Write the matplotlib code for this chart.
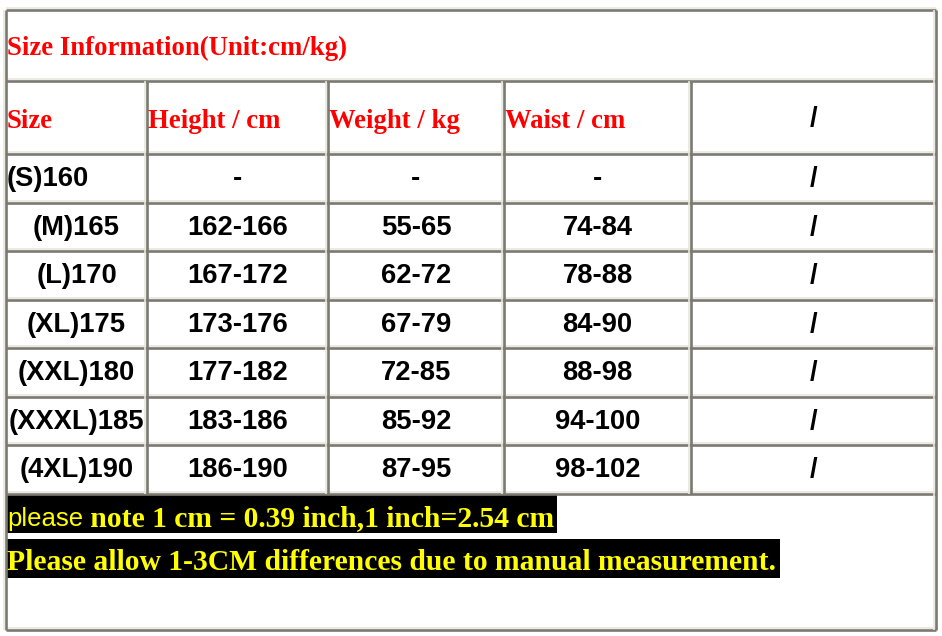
import matplotlib
matplotlib.use("Agg")
from matplotlib import pyplot as plt
from matplotlib.patches import Rectangle

# table content
title = "Size Information(Unit:cm/kg)"
headers = ["Size", "Height / cm", "Weight / kg", "Waist / cm", "/"]
sizes = ["(S)160", "(M)165", "(L)170", "(XL)175", "(XXL)180", "(XXXL)185", "(4XL)190"]
heights = ["-", "162-166", "167-172", "173-176", "177-182", "183-186", "186-190"]
weights = ["-", "55-65", "62-72", "67-79", "72-85", "85-92", "87-95"]
waists = ["-", "74-84", "78-88", "84-90", "88-98", "94-100", "98-102"]
extra = ["/"] * 7
note_1_first = "please"
note_1_rest = " note 1 cm = 0.39 inch,1 inch=2.54 cm"
note_2 = "Please allow 1-3CM differences due to manual measurement."

# layout in pixels
W, H = 942, 636
col_edges = [6, 147, 328, 504, 691, 936]
row_edges = [10, 81, 154, 202.5, 251, 299.5, 348, 396.5, 445, 493.5, 630]
dark = "#7a7a72"
light = "#e9e7dc"
red = "#ff0000"
yellow = "#ffff00"
serif = ["Liberation Serif", "DejaVu Serif"]
sans = ["Liberation Sans", "DejaVu Sans"]
fs_head = 19.3
fs_data = 19.7
fs_note = 21.3

fig = plt.figure(figsize=(W / 100, H / 100), dpi=100)
ax = fig.add_axes([0, 0, 1, 1])
ax.set_xlim(0, W)
ax.set_ylim(H, 0)
ax.axis("off")


def hline(y, x0, x1):
    ax.plot([x0, x1], [y - 2, y - 2], color=light, lw=1.2, solid_capstyle="butt")
    ax.plot([x0, x1], [y, y], color=dark, lw=1.9, solid_capstyle="butt")


def vline(x, y0, y1):
    ax.plot([x - 2, x - 2], [y0, y1], color=light, lw=1.2, solid_capstyle="butt")
    ax.plot([x, x], [y0, y1], color=dark, lw=1.9, solid_capstyle="butt")


left, right = col_edges[0], col_edges[-1]
for y in row_edges:
    hline(y, left, right)
vline(left, row_edges[0], row_edges[-1])
vline(right, row_edges[0], row_edges[-1])
for x in col_edges[1:-1]:
    vline(x, row_edges[1], row_edges[-2])

# title row
ax.text(left + 1, 55, title, color=red, family=serif, weight="bold",
        fontsize=fs_head, va="baseline", ha="left")

# header row
for i, h in enumerate(headers):
    if h == "/":
        ax.text((col_edges[i] + col_edges[i + 1]) / 2, 126, h, family=sans,
                weight="bold", fontsize=fs_data, va="baseline", ha="center",
                color="black")
    else:
        ax.text(col_edges[i] + 1, 128, h, color=red, family=serif, weight="bold",
                fontsize=fs_head, va="baseline", ha="left")

# data rows
columns = [sizes, heights, weights, waists, extra]
for r in range(len(sizes)):
    yc = (row_edges[r + 2] + row_edges[r + 3]) / 2 + 1
    for c, col in enumerate(columns):
        val = col[r]
        if c == 0 and r == 0:
            ax.text(col_edges[0] + 1, yc, val, family=sans, weight="bold",
                    fontsize=fs_data, va="center", ha="left", color="black")
        else:
            ax.text((col_edges[c] + col_edges[c + 1]) / 2, yc, val, family=sans,
                    weight="bold", fontsize=fs_data, va="center", ha="center",
                    color="black")

# notes on black bands
ax.add_patch(Rectangle((left + 1, 495), 557 - left - 1, 38, color="black", lw=0))
ax.add_patch(Rectangle((left + 1, 539), 780 - left - 1, 39, color="black", lw=0))
t1 = ax.text(left + 1, 526, note_1_first, family=sans, fontsize=18.5,
             va="baseline", ha="left", color=yellow)
fig.canvas.draw()
x_end = ax.transData.inverted().transform(
    (t1.get_window_extent().x1, 0))[0]
ax.text(x_end, 526, note_1_rest, family=serif, weight="bold", fontsize=fs_note,
        va="baseline", ha="left", color=yellow)
ax.text(left + 1, 570, note_2, family=serif, weight="bold", fontsize=fs_note,
        va="baseline", ha="left", color=yellow)

fig.savefig("out.png", dpi=100, facecolor="white")
